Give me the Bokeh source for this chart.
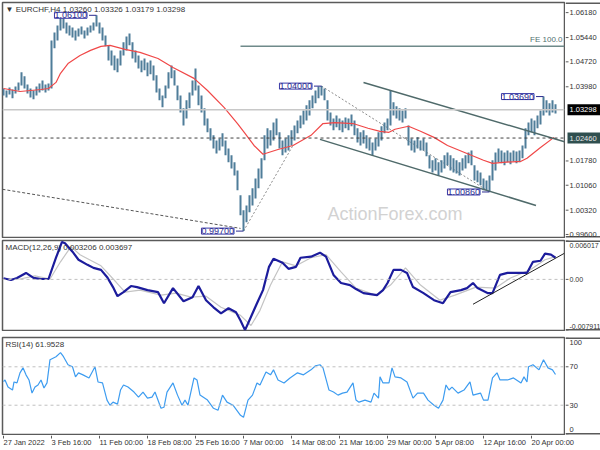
from bokeh.plotting import figure
from bokeh.layouts import column, row
from bokeh.models import Range1d, Label, Span
from bokeh.embed import file_html
from bokeh.resources import INLINE

# ---------------- data ----------------
bar_index = list(range(0, 369, 2))
highs = [1.0393,1.0387,1.0396,1.0390,1.0399,1.0411,1.0441,1.0429,1.0405,1.0393,
         1.0387,1.0399,1.0408,1.0417,1.0405,1.0408,1.0535,1.0559,1.0580,1.0607,
         1.0601,1.0589,1.0580,1.0574,1.0565,1.0571,1.0577,1.0565,1.0574,1.0580,
         1.0589,1.0610,1.0589,1.0574,1.0550,1.0521,1.0506,1.0491,1.0482,1.0506,
         1.0530,1.0547,1.0556,1.0530,1.0506,1.0491,1.0476,1.0482,1.0470,1.0476,
         1.0461,1.0432,1.0393,1.0372,1.0402,1.0441,1.0461,1.0447,1.0402,1.0372,
         1.0334,1.0358,1.0381,1.0417,1.0452,1.0402,1.0372,1.0334,1.0304,1.0275,
         1.0254,1.0239,1.0245,1.0260,1.0239,1.0215,1.0195,1.0174,1.0150,1.0076,
         1.0032,1.0046,1.0076,1.0097,1.0126,1.0156,1.0186,1.0254,1.0275,1.0269,
         1.0292,1.0304,1.0263,1.0239,1.0245,1.0254,1.0269,1.0283,1.0298,1.0313,
         1.0328,1.0343,1.0358,1.0372,1.0387,1.0399,1.0400,1.0393,1.0358,1.0322,
         1.0304,1.0313,1.0304,1.0298,1.0307,1.0304,1.0316,1.0298,1.0275,1.0263,
         1.0269,1.0254,1.0245,1.0233,1.0245,1.0263,1.0281,1.0292,1.0304,1.0387,
         1.0352,1.0340,1.0334,1.0328,1.0334,1.0283,1.0245,1.0239,1.0248,1.0239,
         1.0245,1.0233,1.0195,1.0180,1.0186,1.0174,1.0180,1.0195,1.0203,1.0195,
         1.0186,1.0180,1.0174,1.0186,1.0195,1.0203,1.0209,1.0165,1.0150,1.0144,
         1.0126,1.0120,1.0135,1.0180,1.0203,1.0215,1.0209,1.0203,1.0209,1.0203,
         1.0209,1.0206,1.0209,1.0224,1.0275,1.0292,1.0304,1.0298,1.0313,1.0328,
         1.0369,1.0358,1.0349,1.0358,1.0346]
lows = [1.0372,1.0366,1.0375,1.0364,1.0378,1.0387,1.0402,1.0393,1.0378,1.0366,
        1.0361,1.0372,1.0381,1.0387,1.0381,1.0387,1.0393,1.0512,1.0535,1.0565,
        1.0571,1.0556,1.0550,1.0544,1.0535,1.0547,1.0553,1.0541,1.0550,1.0559,
        1.0565,1.0577,1.0556,1.0535,1.0518,1.0476,1.0461,1.0447,1.0441,1.0461,
        1.0491,1.0506,1.0521,1.0482,1.0470,1.0452,1.0441,1.0447,1.0429,1.0435,
        1.0417,1.0381,1.0358,1.0337,1.0364,1.0393,1.0423,1.0402,1.0358,1.0322,
        1.0283,1.0304,1.0334,1.0372,1.0387,1.0343,1.0322,1.0283,1.0263,1.0239,
        1.0215,1.0200,1.0209,1.0221,1.0195,1.0174,1.0156,1.0135,1.0091,1.0017,
        0.9970,0.9996,1.0026,1.0046,1.0067,1.0097,1.0126,1.0180,1.0215,1.0224,
        1.0239,1.0254,1.0215,1.0195,1.0203,1.0209,1.0224,1.0239,1.0260,1.0275,
        1.0286,1.0298,1.0313,1.0334,1.0349,1.0364,1.0372,1.0358,1.0298,1.0283,
        1.0269,1.0278,1.0269,1.0263,1.0275,1.0269,1.0281,1.0254,1.0233,1.0224,
        1.0230,1.0215,1.0209,1.0195,1.0209,1.0221,1.0239,1.0260,1.0269,1.0283,
        1.0313,1.0304,1.0298,1.0292,1.0304,1.0224,1.0209,1.0203,1.0215,1.0209,
        1.0209,1.0192,1.0156,1.0144,1.0150,1.0135,1.0144,1.0156,1.0165,1.0150,
        1.0144,1.0141,1.0135,1.0150,1.0156,1.0171,1.0165,1.0120,1.0115,1.0106,
        1.0091,1.0091,1.0086,1.0120,1.0150,1.0174,1.0171,1.0165,1.0174,1.0168,
        1.0177,1.0171,1.0174,1.0186,1.0215,1.0254,1.0263,1.0254,1.0275,1.0286,
        1.0313,1.0322,1.0313,1.0322,1.0319]

ma_idx = [0,11,25,30,35,38,43,51,58,65,71,81,91,103,113,127,136,147,156,161,
          167,173,183,193,205,213,221,233,243,251,257,261,270,278,287,296,309,320,326,333,
          345,349,358,367]
ma_val = [1.0393,1.0384,1.0390,1.0393,1.0411,1.0438,1.0467,1.0491,1.0506,1.0518,
          1.0521,1.0509,1.0500,1.0482,1.0455,1.0423,1.0387,1.0337,1.0289,1.0260,
          1.0224,1.0198,1.0212,1.0224,1.0254,1.0289,1.0292,1.0289,1.0275,1.0266,
          1.0263,1.0272,1.0281,1.0266,1.0248,1.0224,1.0200,1.0180,1.0171,1.0174,
          1.0177,1.0186,1.0218,1.0248]

macd_idx = [0,5,9,15,20,25,30,35,39,41,46,50,56,60,65,69,73,76,80,85,
            89,96,103,107,113,120,126,130,135,140,145,150,155,158,161,163,169,173,177,180,
            186,190,195,198,205,211,215,220,225,231,235,240,249,253,256,260,265,269,273,280,
            287,293,298,305,309,313,316,323,326,331,336,340,345,349,353,358,361,365,368]
macd_val = [0.00017,-0.00009,0.00022,0.00100,0.00022,0.00006,0.00006,0.00335,0.00580,0.00560,
            0.00429,0.00304,0.00225,0.00178,0.00147,0.00038,-0.00119,-0.00260,-0.00197,-0.00103,
            -0.00119,-0.00166,-0.00197,-0.00369,-0.00135,-0.00338,-0.00275,-0.00103,-0.00322,-0.00432,
            -0.00526,-0.00447,-0.00510,-0.00635,-0.00785,-0.00682,-0.00369,-0.00166,0.00194,0.00319,
            0.00257,0.00163,0.00194,0.00335,0.00351,0.00413,0.00351,0.00069,-0.00056,-0.00088,
            -0.00150,-0.00213,-0.00244,-0.00166,-0.00056,0.00147,0.00147,0.00100,-0.00119,-0.00213,
            -0.00322,-0.00369,-0.00197,-0.00166,-0.00135,-0.00056,-0.00135,-0.00213,-0.00213,0.00069,
            0.00100,0.00100,0.00100,0.00100,0.00272,0.00288,0.00398,0.00382,0.00335]
signal_idx = [0,11,21,31,38,45,51,65,75,81,91,105,115,125,135,145,158,165,171,178,
              186,195,205,215,225,235,248,258,268,278,291,301,315,328,338,351,361,368]
signal_val = [0.00006,0.00006,0.00053,0.00006,0.00272,0.00507,0.00382,0.00210,-0.00041,-0.00197,
              -0.00166,-0.00244,-0.00213,-0.00275,-0.00260,-0.00432,-0.00557,-0.00714,-0.00479,-0.00088,
              0.00272,0.00210,0.00335,0.00382,0.00116,-0.00135,-0.00244,-0.00088,0.00178,-0.00088,
              -0.00322,-0.00244,-0.00119,-0.00135,0.00022,0.00147,0.00304,0.00351]

rsi_idx = [0,1,3,6,7,9,11,13,15,17,19,21,23,25,27,29,31,35,38,40,
           43,46,48,50,53,57,61,63,66,69,71,73,76,78,80,83,87,90,93,96,
           99,101,105,107,109,113,116,119,121,123,127,129,131,136,140,143,146,149,153,158,
           160,163,166,169,171,175,178,180,183,187,191,196,200,205,208,211,213,217,220,223,
           226,229,233,235,237,241,245,247,250,251,253,257,259,261,265,269,273,276,280,283,
           287,290,293,295,297,299,303,307,311,313,318,320,323,326,329,331,336,340,345,347,
           349,350,353,357,360,363,366,368]
rsi_val = [54.5,56.3,48.9,45.8,54.2,53.2,63.7,68.9,61.6,56.3,42.6,48.9,51.1,56.3,47.9,53.2,77.4,80.5,84.7,80.5,
           72.1,70.0,59.5,63.7,61.6,58.4,70.0,54.2,53.2,35.3,30.0,33.2,31.1,45.8,51.1,48.9,43.7,38.4,43.7,37.4,
           38.4,43.7,26.8,27.9,43.7,53.2,40.5,30.0,35.3,30.0,58.4,56.3,40.5,35.3,26.8,24.7,40.5,33.2,30.0,19.5,
           17.4,35.3,40.5,53.2,51.1,64.7,61.6,66.8,56.3,53.2,58.4,63.7,61.6,66.8,71.1,72.1,68.9,45.8,43.7,40.5,
           42.6,43.7,53.2,35.3,33.2,35.3,33.2,42.6,37.4,59.5,53.2,53.2,68.9,59.5,58.4,54.2,37.4,42.6,42.6,35.3,
           30.0,26.8,35.3,51.1,45.8,48.9,42.6,45.8,54.2,40.5,42.6,35.3,35.3,58.4,63.7,56.3,56.3,58.4,53.2,59.5,
           54.2,70.0,72.1,66.8,77.4,68.9,66.8,62.0]

# drawn objects (bar index, price)
channel_up_x = [240, 374]
channel_up_y = [1.0411, 1.0235]
channel_lo_x = [211, 355]
channel_lo_y = [1.0242, 1.0046]
long_dash_x = [-0.7, 158]
long_dash_y = [1.0094, 0.9978]
dot1_x = [160, 193]
dot1_y = [0.9970, 1.0224]
dot2_x = [212, 324]
dot2_y = [1.0400, 1.0086]
fe_x = [158, 374]
fe_y = [1.0518, 1.0518]
macd_trend_x = [313, 374]
macd_trend_y = [-0.00385, 0.00405]
swing_idx = [62, 160, 212, 324, 360]
swing_val = [1.0610, 0.9970, 1.0400, 1.0086, 1.0369]
swing_txt = ["1.06100", "0.99700", "1.04000", "1.00860", "1.03690"]

price_ticks = [1.0618, 1.0544, 1.0472, 1.0398, 1.0178, 1.0106, 1.0032, 0.9960]
price_labels = ["1.06180", "1.05440", "1.04720", "1.03980", "1.01780", "1.01060", "1.00320", "0.99600"]
last_price = 1.03298
level_price = 1.0246
macd_ticks = [0.006017, 0.0, -0.007911]
macd_labels = ["0.006017", "0.00", "-0.007911"]
rsi_ticks = [100, 70, 30, 0]
rsi_labels = ["100", "70", "30", "0"]
date_idx = [0, 32, 64, 96, 128, 160, 192, 224, 256, 288, 320, 352]
date_lab = ["27 Jan 2022", "3 Feb 16:00", "11 Feb 00:00", "18 Feb 08:00", "25 Feb 16:00",
            "7 Mar 00:00", "14 Mar 08:00", "21 Mar 16:00", "29 Mar 00:00", "5 Apr 08:00",
            "12 Apr 16:00", "20 Apr 00:00"]

# ---------------- plotting ----------------
FONT = "Liberation Sans"
TXT = "#333333"
EDGE = "#5a5a5a"
PW, SW = 565, 35          # panel width, right scale strip width
X0, X1 = -0.667, 374.0
xr = Range1d(X0, X1)


def clean(p):
    p.xgrid.visible = False
    p.ygrid.visible = False
    p.background_fill_color = "white"
    p.border_fill_color = "white"
    return p


def panel(h, yr, top, bottom):
    p = figure(width=PW, height=h, x_range=xr, y_range=yr, output_backend="svg",
               toolbar_location=None, x_axis_location=None, y_axis_location=None,
               min_border_left=2, min_border_right=1, min_border_top=top,
               min_border_bottom=bottom)
    clean(p)
    p.outline_line_color = EDGE
    p.outline_line_width = 1.5
    return p


def strip(h, yr, top, bottom, ticks, labels, size="7.5px", edge_shift=None):
    s = figure(width=SW, height=h, x_range=Range1d(0, SW), y_range=yr, output_backend="svg",
               toolbar_location=None, x_axis_location=None, y_axis_location=None,
               min_border_left=0, min_border_right=0, min_border_top=top,
               min_border_bottom=bottom)
    clean(s)
    s.outline_line_color = None
    s.add_layout(Span(location=yr.start, dimension="width", line_color=EDGE, line_width=3))
    s.add_layout(Span(location=yr.end, dimension="width", line_color=EDGE, line_width=3))
    s.segment(x0=[0] * len(ticks), y0=ticks, x1=[3] * len(ticks), y1=ticks,
              line_color=EDGE, line_width=1)
    for i, (t, lab) in enumerate(zip(ticks, labels)):
        yoff, bl = 0, "middle"
        if edge_shift and i in edge_shift:
            yoff, bl = edge_shift[i]
        s.add_layout(Label(x=4, y=t, text=lab, y_offset=yoff, text_align="left",
                           text_baseline=bl, text_font=FONT, text_font_size=size,
                           text_color=TXT))
    return s


# ---- main panel ----
H1, H2, H3, HD = 238, 93, 104, 13
yr1 = Range1d(0.9951, 1.0648)
p1 = panel(H1, yr1, 2, 1)
p1.add_layout(Label(x=261, y=1.0021, text="ActionForex.com", text_align="center",
                    text_baseline="middle", text_font=FONT, text_font_size="18px",
                    text_color="#d2d2d2"))
p1.add_layout(Span(location=last_price, dimension="width", line_color="#c8c8c8", line_width=1.5))
p1.add_layout(Span(location=level_price, dimension="width", line_color="#404040",
                   line_width=1, line_dash="3 3"))
p1.line(fe_x, fe_y, line_color="#6f8a8a", line_width=1.5)
p1.add_layout(Label(x=X1, y=fe_y[0], text="FE 100.0", x_offset=-2, y_offset=2,
                    text_align="right", text_baseline="bottom", text_font=FONT,
                    text_font_size="8px", text_color="#4f6f6f"))
p1.line(long_dash_x, long_dash_y, line_color="#555555", line_width=1, line_dash="3 2")
p1.line(dot1_x, dot1_y, line_color="#8a8a8a", line_width=1, line_dash="2 2")
p1.line(dot2_x, dot2_y, line_color="#8a8a8a", line_width=1, line_dash="2 2")
p1.segment(x0=bar_index, y0=lows, x1=bar_index, y1=highs, line_color="#4f7d99", line_width=2)
p1.line(ma_idx, ma_val, line_color="#f04848", line_width=1.2)
p1.line(channel_up_x, channel_up_y, line_color="#4f6a6a", line_width=1.5)
p1.line(channel_lo_x, channel_lo_y, line_color="#4f6a6a", line_width=1.5)
for ix, v, t in zip(swing_idx, swing_val, swing_txt):
    p1.segment(x0=[ix - 5], y0=[v], x1=[ix], y1=[v], line_color="#2a2a90", line_width=1)
    p1.add_layout(Label(x=ix - 5, y=v, text=t, x_offset=-2, text_align="right",
                        text_baseline="middle", text_font=FONT, text_font_size="9px",
                        text_color="#2a2a90", background_fill_color="white",
                        border_line_color="#3a3aa8", border_line_width=1))
p1.add_layout(Label(x=X0, y=yr1.end, x_offset=3, y_offset=-2,
                    text="\u25bc EURCHF,H4 1.03260 1.03326 1.03179 1.03298",
                    text_align="left", text_baseline="top", text_font=FONT,
                    text_font_size="8px", text_color=TXT))
s1 = strip(H1, yr1, 2, 1, price_ticks, price_labels)
s1.rect(x=[18.5, 18.5], y=[last_price, level_price], width=[33, 33], height=[11, 11],
        width_units="screen", height_units="screen",
        fill_color=["black", "#2f4f4f"], line_color=None)
s1.add_layout(Label(x=4, y=last_price, text="1.03298", text_align="left",
                    text_baseline="middle", text_font=FONT, text_font_size="7.5px",
                    text_color="white"))
s1.add_layout(Label(x=4, y=level_price, text="1.02460", text_align="left",
                    text_baseline="middle", text_font=FONT, text_font_size="7.5px",
                    text_color="#e8e8e8"))

# ---- MACD panel ----
yr2 = Range1d(-0.007911, 0.006017)
p2 = panel(H2, yr2, 2, 1)
p2.add_layout(Span(location=0, dimension="width", line_color="#c0c0c0", line_width=1,
                   line_dash="3 3"))
p2.line(signal_idx, signal_val, line_color="#c4c4c4", line_width=1.2)
p2.line(macd_idx, macd_val, line_color="#1c1c9c", line_width=2.2)
p2.line(macd_trend_x, macd_trend_y, line_color="#222222", line_width=1)
p2.add_layout(Label(x=X0, y=yr2.end, x_offset=3, y_offset=-2,
                    text="MACD(12,26,9) 0.003206 0.003697", text_align="left",
                    text_baseline="top", text_font=FONT, text_font_size="8px", text_color=TXT))
s2 = strip(H2, yr2, 2, 1, macd_ticks, macd_labels, size="7px",
           edge_shift={0: (-2, "top"), 2: (2, "bottom")})

# ---- RSI panel ----
yr3 = Range1d(-0.5, 100.5)
p3 = panel(H3, yr3, 6, 1)
for lv in (70, 30):
    p3.add_layout(Span(location=lv, dimension="width", line_color="#c0c0c0", line_width=1,
                       line_dash="3 3"))
p3.line(rsi_idx, rsi_val, line_color="#3d9cf0", line_width=1.2)
p3.add_layout(Label(x=X0, y=yr3.end, x_offset=3, y_offset=-2, text="RSI(14) 61.9528",
                    text_align="left", text_baseline="top", text_font=FONT,
                    text_font_size="8px", text_color=TXT))
s3 = strip(H3, yr3, 6, 1, rsi_ticks, rsi_labels,
           edge_shift={0: (-5, "middle"), 3: (5, "middle")})

# ---- time scale strip (same bar scale, extended under the price scale) ----
frame_w = PW - 3
d_end = X0 + (X1 - X0) * (PW + SW - 2) / frame_w
d = figure(width=PW + SW, height=HD, x_range=Range1d(X0, d_end), y_range=Range1d(0, HD),
           output_backend="svg", toolbar_location=None, x_axis_location=None,
           y_axis_location=None, min_border_left=2, min_border_right=0,
           min_border_top=0, min_border_bottom=0)
clean(d)
d.outline_line_color = None
d.segment(x0=date_idx, y0=[HD] * len(date_idx), x1=date_idx, y1=[HD - 3] * len(date_idx),
          line_color=EDGE, line_width=1)
for ix, t in zip(date_idx, date_lab):
    d.add_layout(Label(x=ix, y=HD - 2, text=t, text_align="left", text_baseline="top",
                       text_font=FONT, text_font_size="7.5px", text_color=TXT))

layout = column(row(p1, s1, spacing=0), row(p2, s2, spacing=0), row(p3, s3, spacing=0), d,
                spacing=0)
open("out.html", "w").write(file_html(layout, INLINE))
